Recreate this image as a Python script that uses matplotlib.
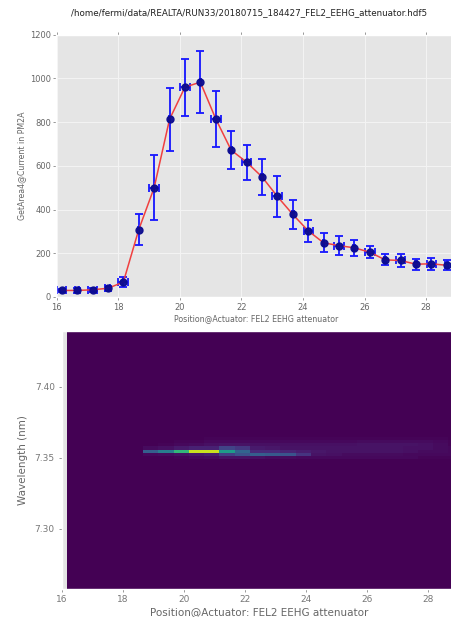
import numpy as np
import matplotlib
matplotlib.use("Agg")
import matplotlib.pyplot as plt

position = [16.17, 16.67, 17.17, 17.67, 18.17, 18.67, 19.17, 19.67, 20.17, 20.67, 21.17, 21.67, 22.17,
            22.67, 23.17, 23.67, 24.17, 24.67, 25.17, 25.67, 26.17, 26.67, 27.17, 27.67, 28.17, 28.67]
area = [30, 30, 33, 40, 68, 308, 500, 813, 960, 983, 815, 672, 617,
        550, 460, 378, 303, 248, 235, 225, 205, 170, 167, 150, 152, 145]
area_err = [8, 10, 8, 12, 22, 72, 150, 143, 130, 141, 128, 88, 80,
            82, 95, 65, 50, 43, 42, 36, 27, 25, 30, 25, 28, 22]
pos_err = [0.14, 0.07, 0.16, 0.08, 0.16, 0.02, 0.17, 0.02, 0.16, 0.02, 0.17, 0.03, 0.14,
           0.02, 0.16, 0.03, 0.15, 0.03, 0.15, 0.03, 0.16, 0.03, 0.14, 0.03, 0.14, 0.05]

# spectrum rows, one list per wavelength bin, columns start at each position
col_edges = position + [29.17]
wl_edges = [7.3492, 7.3514, 7.3536, 7.3558, 7.3580, 7.3602, 7.3624, 7.3646]
row0 = [0, 0, 0, 0, 0, 0, 0, .01, .02, .03, .05, .05, .04, .03, .03, .02, .02, .02, .02, .02, .02, .02, .02, .01, .01, .01]
row1 = [0, 0, 0, 0, 0, .02, .03, .04, .06, .08, .18, .25, .30, .28, .26, .15, .05, .04, .03, .03, .03, .03, .02, .02, .02, .02]
row2 = [0, 0, 0, 0, 0, .30, .42, .66, .92, .92, .55, .32, .12, .12, .10, .08, .06, .05, .05, .05, .05, .05, .04, .03, .03, .02]
row3 = [0, 0, 0, 0, 0, .03, .04, .07, .09, .09, .20, .16, .07, .06, .05, .05, .05, .05, .05, .05, .05, .05, .04, .04, .03, .02]
row4 = [0, 0, 0, 0, 0, 0, .01, .02, .03, .04, .05, .05, .04, .04, .04, .04, .04, .04, .04, .05, .05, .05, .05, .04, .03, .01]
row5 = [0, 0, 0, 0, 0, 0, 0, .01, .01, .02, .02, .02, .02, .02, .02, .02, .02, .02, .02, .03, .03, .03, .03, .03, .02, .01]
row6 = [0, 0, 0, 0, 0, 0, 0, 0, 0, .01, .01, .01, .01, .01, .01, .01, .01, .01, .01, .01, .01, .01, .01, .01, .01, 0]

plt.style.use('ggplot')
fig = plt.figure(figsize=(4.52, 6.17), dpi=100)
W, H = 452., 617.

# the grey panel stops just under the 1200 tick, as in the source image
ax1 = fig.add_axes([56.5/W, 1-297/H, (W-56.5)/W, 262.3/H])
ax1.patch.set_visible(False)
ax1.axhspan(0, 1192, color='#e5e5e5', lw=0, zorder=0)
ax1.errorbar(position, area, yerr=area_err, xerr=pos_err, fmt='o', color='#0b0b8f', ecolor='#1a1aff',
             ms=5, elinewidth=1.4, capsize=3.2, capthick=1.4, alpha=0.95)
ax1.plot(position, area, '-', color='#f04040', lw=1.1)
ax1.set_xlim(16, 28.84)
ax1.set_ylim(0, 1200)
ax1.set_xticks([16, 18, 20, 22, 24, 26, 28])
ax1.set_yticks([0, 200, 400, 600, 800, 1000, 1200])
ax1.tick_params(labelsize=6, top=True, direction='out', length=2, pad=2, width=0.6,
                color='#888888', labelcolor='#666666')
ax1.set_xlabel("Position@Actuator: FEL2 EEHG attenuator", fontsize=5.7, labelpad=1.5, color='#666666')
ax1.xaxis.label.set_x(0.505)
ax1.set_ylabel("GetArea4@Current in PM2A", fontsize=5.7, labelpad=3, color='#666666')
ax1.grid(True, color='#f4f4f4', lw=0.7)
ax1.set_axisbelow(True)
fig.text(249/W, 1-13/H, "/home/fermi/data/REALTA/RUN33/20180715_184427_FEL2_EEHG_attenuator.hdf5",
         fontsize=6.35, color='#222222', ha='center', va='center')

ax2 = fig.add_axes([61.7/W, 1-588.5/H, (W-61.7)/W, 257.5/H])
spec = np.array([row0, row1, row2, row3, row4, row5, row6])
back = np.zeros((1, 26))
ax2.pcolormesh(col_edges, [7.25, 7.45], back, cmap='viridis', vmin=0, vmax=1)
ax2.pcolormesh(col_edges, wl_edges, spec, cmap='viridis', vmin=0, vmax=1)
ax2.set_xlim(16, 28.79)
ax2.set_ylim(7.258, 7.4392)
ax2.set_xticks([16, 18, 20, 22, 24, 26, 28])
ax2.set_yticks([7.30, 7.35, 7.40])
ax2.set_yticklabels(["7.30", "7.35", "7.40"])
ax2.tick_params(labelsize=6.5, direction='out', length=2, pad=3, width=0.6,
                color='#888888', labelcolor='#777777')
ax2.set_xlabel("Position@Actuator: FEL2 EEHG attenuator", fontsize=7.5, labelpad=2, color='#666666')
ax2.xaxis.label.set_x(0.507)
ax2.set_ylabel("Wavelength (nm)", fontsize=7.5, labelpad=5, color='#666666')
ax2.grid(False)

fig.savefig("out.png", dpi=100)
